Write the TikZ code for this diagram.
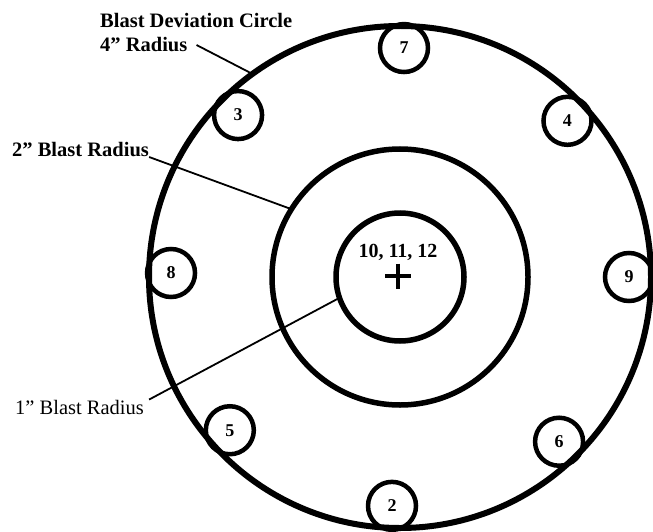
\documentclass[tikz,border=0pt]{standalone}
\usepackage{fontspec}
\setmainfont{Liberation Serif}
\begin{document}
\begin{tikzpicture}[x=1pt,y=-1pt,
  ring/.style={draw,circle,inner sep=0pt,outer sep=0pt,minimum size=#1},
  shot/.style={draw,circle,line width=4.5pt,inner sep=0pt,outer sep=0pt,minimum size=48pt,font=\fontsize{18}{20}\selectfont\bfseries},
  lbl/.style={inner sep=0pt,anchor=base west,font=\fontsize{20.5}{24}\selectfont\bfseries},
  leader/.style={line width=1.8pt}]
\useasboundingbox (0,0) rectangle (653,532);
\coordinate (c) at (400,277);
% blast circles
\node[ring=502pt,line width=6pt] (dev) at (c) {};
\node[ring=256pt,line width=5.5pt] (mid) at (c) {};
\node[ring=128pt,line width=5.5pt] (inn) at (c) {};
% shot positions round the deviation circle
\foreach \a/\n in {89/7,135/3,179/8,222/5,268/2,314/6,0/9,43/4}
  {\node[shot] (s\n) at ({400+229*cos(\a)},{277-229*sin(\a)}) {\n};}
% centre shots
\node[font=\fontsize{20}{22}\selectfont\bfseries,inner sep=0pt] (grp) at (398,252) {10, 11, 12};
\coordinate (aim) at (398,276);
\draw[line width=4.5pt] ([xshift=-13pt]aim) -- ([xshift=13pt]aim);
\draw[line width=4.5pt] ([yshift=12.5pt]aim) -- ([yshift=-12.5pt]aim);
% labels
\node[lbl] (devtop) at (100,28) {Blast Deviation Circle};
\node[lbl] (devrad) at (100,52) {4” Radius};
\node[lbl] (blast2) at (12,157) {2” Blast Radius};
\node[lbl,font=\fontsize{20.5}{24}\selectfont] (blast1) at (15,414) {1” Blast Radius};
\draw[leader] ([xshift=9pt]devrad.east) -- (dev.126);
\draw[leader] (blast2.base east) -- (mid.148);
\draw[leader] ([xshift=5pt]blast1.north east) -- (inn.199);
\end{tikzpicture}
\end{document}
